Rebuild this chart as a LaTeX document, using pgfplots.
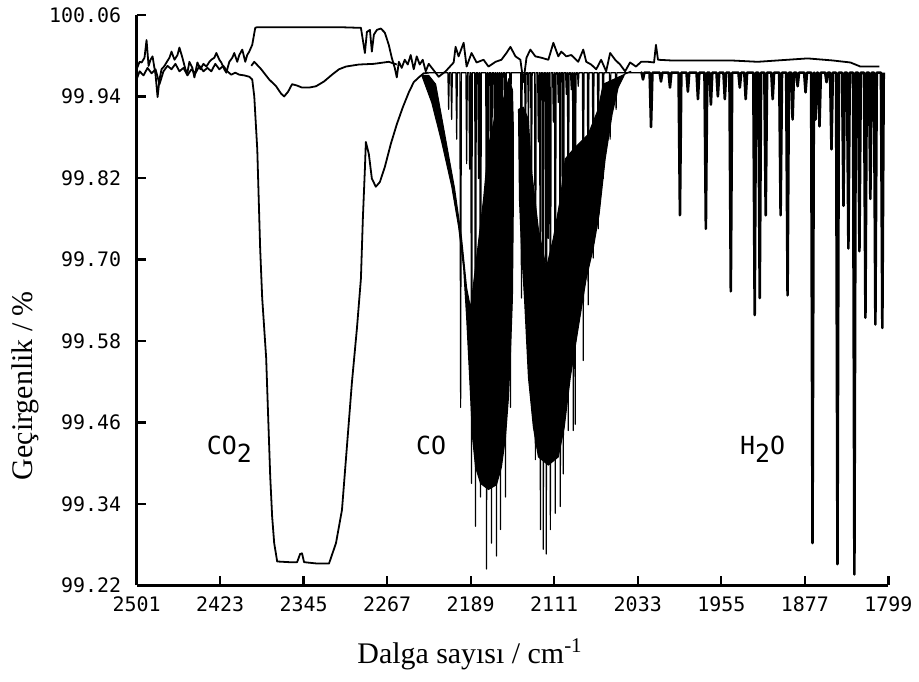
\documentclass[border=0pt]{standalone}
\usepackage{fontspec}
\setmainfont{Liberation Serif}
\newfontfamily\plotfont{DejaVu Sans Mono}
\usepackage{pgfplots}
\pgfplotsset{compat=1.18}
\usepackage{pgfplotstable}

% Trace A: upper noisy reference trace
\pgfplotstableread{
w T
2501.0 99.980
2498.2 99.991
2496.3 99.990
2493.6 99.997
2491.7 100.023
2489.8 99.985
2488.0 99.994
2486.1 99.999
2483.3 99.972
2481.4 99.939
2479.6 99.965
2477.7 99.980
2474.9 99.985
2473.1 99.990
2470.3 99.997
2468.4 100.006
2465.6 99.994
2462.8 100.001
2461.0 100.012
2458.2 99.997
2455.4 99.980
2453.5 99.975
2451.7 99.991
2448.9 99.982
2447.0 99.968
2444.2 99.990
2441.4 99.980
2438.6 99.988
2435.8 99.984
2433.0 99.991
2431.2 99.994
2428.4 99.997
2426.5 100.004
2423.7 99.994
2421.9 99.990
2419.1 99.980
2417.2 99.975
2414.4 99.991
2411.6 99.997
2409.8 100.004
2407.0 99.991
2405.1 100.001
2402.3 100.009
2399.5 99.991
2397.7 100.001
2395.8 100.006
2393.0 100.016
2390.2 100.041
2388.3 100.042
2349.2 100.042
2312.0 100.042
2291.5 100.041
2289.7 100.023
2287.8 100.004
2285.9 100.035
2283.1 100.038
2281.3 100.006
2279.4 100.031
2276.6 100.038
2272.9 100.040
2269.2 100.034
2265.5 100.016
2262.7 99.997
2259.9 99.982
2258.0 99.968
2256.1 99.991
2253.4 99.982
2250.6 99.994
2247.8 99.987
2245.0 100.001
2242.2 99.980
2239.4 99.999
2236.6 99.987
2233.8 99.994
2231.0 99.977
2228.2 99.988
2218.9 99.969
2212.4 99.977
2204.9 99.990
2203.1 100.013
2200.3 99.999
2195.6 100.019
2192.8 99.984
2188.2 100.004
2183.5 99.990
2177.0 99.994
2172.4 99.984
2165.8 99.991
2160.3 99.994
2155.6 100.004
2151.9 100.013
2147.2 99.999
2142.6 99.994
2139.8 99.961
2136.9 99.997
2133.3 100.009
2128.6 99.999
2123.0 99.997
2116.5 99.994
2111.8 100.019
2107.2 99.999
2104.4 100.006
2099.7 99.999
2095.1 100.001
2088.6 99.991
2083.9 100.009
2081.1 99.991
2076.5 99.987
2071.8 99.980
2067.2 99.994
2062.5 99.977
2058.8 100.004
2054.1 99.994
2049.5 99.987
2044.8 99.977
2040.2 99.990
2034.6 99.984
2029.9 99.991
2023.4 99.991
2017.8 99.990
2016.0 100.016
2014.1 99.994
2002.0 99.993
1976.9 99.993
1946.1 99.993
1921.0 99.991
1893.1 99.994
1874.4 99.996
1851.2 99.993
1834.4 99.990
1825.1 99.984
1807.4 99.984
}\traceA

% Trace B: lower noisy trace with the CO2 band
\pgfplotstableread{
w T
2501.0 99.965
2498.2 99.977
2494.5 99.971
2490.8 99.982
2487.0 99.974
2483.3 99.980
2479.6 99.958
2475.9 99.977
2472.1 99.985
2468.4 99.980
2464.7 99.988
2461.0 99.977
2457.2 99.982
2453.5 99.971
2449.8 99.980
2446.1 99.974
2442.3 99.985
2438.6 99.977
2434.9 99.982
2431.2 99.977
2427.5 99.988
2423.7 99.980
2420.0 99.985
2416.3 99.977
2412.6 99.972
2408.8 99.975
2405.1 99.972
2400.5 99.971
2395.8 99.969
2393.0 99.965
2391.1 99.940
2388.3 99.862
2385.6 99.716
2383.7 99.643
2380.0 99.555
2378.1 99.467
2376.2 99.380
2374.4 99.321
2372.5 99.282
2369.7 99.255
2358.6 99.254
2351.1 99.254
2348.3 99.266
2346.5 99.267
2344.6 99.254
2332.5 99.252
2321.3 99.252
2314.8 99.282
2309.2 99.331
2304.6 99.424
2299.9 99.519
2295.2 99.599
2291.5 99.672
2289.7 99.760
2287.8 99.833
2286.9 99.873
2284.1 99.855
2281.3 99.819
2277.6 99.807
2273.8 99.814
2269.2 99.836
2263.6 99.870
2258.0 99.899
2252.4 99.924
2246.8 99.946
2242.2 99.961
2237.5 99.968
2232.9 99.974
2228.2 99.975
}\traceB

% Trace C: shallow CO2 dip
\pgfplotstableread{
w T
2393.9 99.985
2391.1 99.991
2384.6 99.980
2377.2 99.965
2370.7 99.955
2366.0 99.944
2363.2 99.940
2359.5 99.947
2355.8 99.958
2351.1 99.956
2346.5 99.953
2340.0 99.953
2333.4 99.955
2326.0 99.962
2318.5 99.972
2312.0 99.980
2305.5 99.984
2293.4 99.987
2279.4 99.988
2265.5 99.991
2258.0 99.987
}\traceC

% Trace D1: baseline with the CO absorption lines
\pgfplotstableread{
w T
2228.2 99.975
2215.0 99.975
2210.3 99.975
2209.6 99.921
2208.9 99.975
2207.5 99.975
2206.8 99.906
2206.1 99.975
2202.8 99.975
2202.1 99.877
2201.4 99.975
2199.1 99.975
2198.4 99.482
2197.7 99.975
2193.5 99.975
2192.8 99.841
2192.1 99.975
2190.7 99.975
2190.0 99.833
2189.3 99.975
2188.9 99.975
2188.2 99.370
2187.5 99.975
2185.2 99.975
2184.5 99.307
2183.8 99.975
2182.4 99.975
2181.7 99.819
2181.0 99.975
2180.5 99.975
2179.8 99.350
2179.1 99.975
2174.9 99.975
2174.2 99.244
2173.5 99.975
2173.1 99.975
2172.4 99.775
2171.7 99.975
2170.3 99.975
2169.6 99.282
2168.9 99.975
2167.5 99.975
2166.8 99.870
2166.1 99.975
2165.6 99.975
2164.9 99.263
2164.2 99.975
2163.7 99.975
2163.0 99.870
2162.3 99.975
2161.9 99.975
2161.2 99.302
2160.5 99.975
2160.0 99.975
2159.3 99.921
2158.6 99.975
2157.2 99.975
2156.5 99.350
2155.8 99.975
2152.6 99.975
2151.9 99.482
2151.2 99.975
2142.3 99.975
2141.6 99.643
2140.9 99.975
2138.6 99.975
2137.9 99.848
2137.2 99.975
2135.8 99.975
2135.1 99.899
2134.4 99.975
2133.0 99.975
2132.3 99.760
2131.6 99.975
2129.3 99.975
2128.6 99.405
2127.9 99.975
2126.5 99.975
2125.8 99.873
2125.1 99.975
2124.6 99.975
2123.9 99.302
2123.2 99.975
2121.9 99.975
2121.2 99.273
2120.5 99.975
2119.1 99.975
2118.4 99.266
2117.7 99.975
2117.2 99.975
2116.5 99.731
2115.8 99.975
2115.3 99.975
2114.6 99.302
2113.9 99.975
2112.5 99.975
2111.8 99.902
2111.1 99.975
2110.7 99.975
2110.0 99.326
2109.3 99.975
2107.9 99.975
2107.2 99.931
2106.5 99.975
2106.0 99.975
2105.3 99.336
2104.6 99.975
2103.2 99.975
2102.5 99.384
2101.8 99.975
2100.4 99.975
2099.7 99.943
2099.0 99.975
2098.6 99.975
2097.9 99.448
2097.2 99.975
2095.8 99.975
2095.1 99.950
2094.4 99.975
2093.9 99.975
2093.2 99.448
2092.5 99.975
2092.1 99.975
2091.4 99.457
2090.7 99.975
2089.3 99.975
2088.6 99.955
2087.9 99.975
2084.6 99.975
2083.9 99.551
2083.2 99.975
2080.0 99.975
2079.3 99.633
2078.6 99.975
2075.3 99.975
2074.6 99.702
2073.9 99.975
2070.6 99.975
2069.9 99.745
2069.2 99.975
2066.0 99.975
2065.3 99.819
2064.6 99.975
2059.5 99.975
2058.8 99.877
2058.1 99.975
2053.9 99.975
2053.2 99.921
2052.5 99.975
2030.0 99.975
}\traceCO

% Trace D2: baseline with the H2O absorption lines
\pgfplotstableread{
w T
2030.0 99.975
2029.4 99.975
2028.1 99.965
2026.8 99.975
2021.9 99.975
2020.6 99.895
2019.3 99.975
2012.6 99.975
2011.3 99.962
2010.0 99.975
2004.2 99.975
2002.9 99.953
2001.6 99.975
1994.9 99.975
1993.6 99.765
1992.3 99.975
1987.5 99.975
1986.2 99.947
1984.9 99.975
1978.1 99.975
1976.8 99.936
1975.5 99.975
1970.7 99.975
1969.4 99.745
1968.1 99.975
1966.0 99.975
1964.7 99.928
1963.4 99.975
1959.5 99.975
1958.2 99.940
1956.9 99.975
1953.0 99.975
1951.7 99.936
1950.4 99.975
1947.4 99.975
1946.1 99.653
1944.8 99.975
1939.0 99.975
1937.7 99.953
1936.4 99.975
1933.5 99.975
1932.2 99.936
1930.9 99.975
1925.1 99.975
1923.8 99.618
1922.5 99.975
1920.4 99.975
1919.1 99.643
1917.8 99.975
1914.8 99.975
1913.5 99.765
1912.2 99.975
1908.3 99.975
1907.0 99.936
1905.7 99.975
1900.9 99.975
1899.6 99.765
1898.3 99.975
1894.4 99.975
1893.1 99.647
1891.8 99.975
1889.7 99.975
1888.4 99.906
1887.1 99.975
1885.0 99.975
1883.7 99.955
1882.4 99.975
1877.6 99.975
1876.3 99.946
1875.0 99.975
1871.1 99.975
1869.8 99.282
1868.5 99.975
1868.3 99.975
1867.0 99.906
1865.7 99.975
1864.6 99.975
1863.3 99.896
1862.0 99.975
1858.0 99.975
1856.7 99.961
1855.4 99.975
1853.4 99.975
1852.1 99.862
1850.8 99.975
1847.8 99.975
1846.5 99.251
1845.2 99.975
1842.2 99.975
1840.9 99.779
1839.6 99.975
1837.6 99.975
1836.3 99.716
1835.0 99.975
1832.0 99.975
1830.7 99.236
1829.4 99.975
1827.3 99.975
1826.0 99.712
1824.7 99.975
1821.7 99.975
1820.4 99.614
1819.1 99.975
1817.1 99.975
1815.8 99.789
1814.5 99.975
1812.4 99.975
1811.1 99.604
1809.8 99.975
1805.9 99.975
1804.6 99.599
1803.3 99.975
}\traceH

% Dense core of the CO R-branch
\pgfplotstableread{
w T
2234.7 99.971
2225.4 99.931
2216.1 99.873
2206.8 99.808
2200.3 99.748
2195.6 99.687
2192.8 99.614
2190.0 99.526
2187.3 99.438
2184.5 99.394
2179.8 99.370
2172.4 99.361
2164.9 99.368
2160.3 99.394
2156.5 99.438
2153.7 99.497
2151.9 99.560
2150.0 99.643
2149.1 99.789
2149.1 99.892
2150.0 99.950
2153.7 99.965
2158.4 99.936
2164.9 99.921
2172.4 99.867
2177.0 99.789
2183.5 99.702
2189.1 99.628
2192.8 99.658
2197.5 99.731
2204.0 99.804
2212.4 99.877
2221.7 99.958
2228.2 99.971
2234.7 99.971
}\coreR

% Dense core of the CO P-branch
\pgfplotstableread{
w T
2144.4 99.921
2143.5 99.789
2141.6 99.716
2138.8 99.643
2135.1 99.526
2130.5 99.453
2125.8 99.409
2116.5 99.397
2107.2 99.409
2101.6 99.453
2096.0 99.526
2088.6 99.599
2081.1 99.672
2074.6 99.716
2069.0 99.767
2063.4 99.848
2056.9 99.914
2051.3 99.953
2044.8 99.974
2039.2 99.977
2065.3 99.958
2069.9 99.921
2079.3 99.884
2093.2 99.862
2100.7 99.848
2105.3 99.789
2111.8 99.731
2118.4 99.687
2125.8 99.745
2132.3 99.833
2135.1 99.906
2139.8 99.924
2144.4 99.921
}\coreP

\begin{document}
\begin{tikzpicture}
\begin{axis}[
  scale only axis, width=377pt, height=286pt,
  x dir=reverse,
  xmin=1799, xmax=2501, ymin=99.22, ymax=100.06,
  axis x line*=bottom, axis y line*=left,
  axis line style={line width=1.4pt,-},
  x axis line style={-}, y axis line style={-},
  tick align=inside, major tick length=4.5pt,
  tick style={line width=1.2pt, black},
  xtick={1799,1877,1955,2033,2111,2189,2267,2345,2423,2501},
  xticklabels={1799,1877,1955,2033,2111,2189,2267,2345,2423,2501},
  ytick={99.22,99.34,99.46,99.58,99.70,99.82,99.94,100.06},
  yticklabels={99.22,99.34,99.46,99.58,99.70,99.82,99.94,100.06},
  tick label style={font=\plotfont\fontsize{10}{12}\selectfont},
  yticklabel style={xshift=-4.2pt},
  xticklabel style={yshift=-2.2pt},
  xlabel={Dalga sayısı / cm\textsuperscript{-1}},
  ylabel={Geçirgenlik / \%},
  label style={font=\fontsize{15}{18}\selectfont},
  x label style={at={(axis description cs:0.4436,-0.1364)},anchor=base},
  y label style={at={(axis description cs:-0.1379,0.35)},anchor=base},
]
\addplot[fill=black, draw=black, line width=0.5pt] table[x=w,y=T]{\coreR};
\addplot[fill=black, draw=black, line width=0.5pt] table[x=w,y=T]{\coreP};
\addplot[black, line width=0.9pt, line join=round] table[x=w,y=T]{\traceA};
\addplot[black, line width=0.9pt, line join=round] table[x=w,y=T]{\traceB};
\addplot[black, line width=0.9pt, line join=round] table[x=w,y=T]{\traceC};
\addplot[black, line width=0.6pt, line join=round] table[x=w,y=T]{\traceCO};
\addplot[black, line width=1.3pt, line join=round] table[x=w,y=T]{\traceH};
\node[anchor=base west, inner sep=0pt, font=\plotfont\fontsize{12.5}{14}\selectfont] at (axis cs:2435.8,99.412) {CO\raisebox{-3.8pt}{2}};
\node[anchor=base west, inner sep=0pt, font=\plotfont\fontsize{12.5}{14}\selectfont] at (axis cs:2240.3,99.412) {CO};
\node[anchor=base west, inner sep=0pt, font=\plotfont\fontsize{12.5}{14}\selectfont] at (axis cs:1937.7,99.412) {H\raisebox{-3.8pt}{2}O};
\end{axis}
\path (-68.5pt,-48.5pt) rectangle (391pt,293.5pt);
\end{tikzpicture}
\end{document}
